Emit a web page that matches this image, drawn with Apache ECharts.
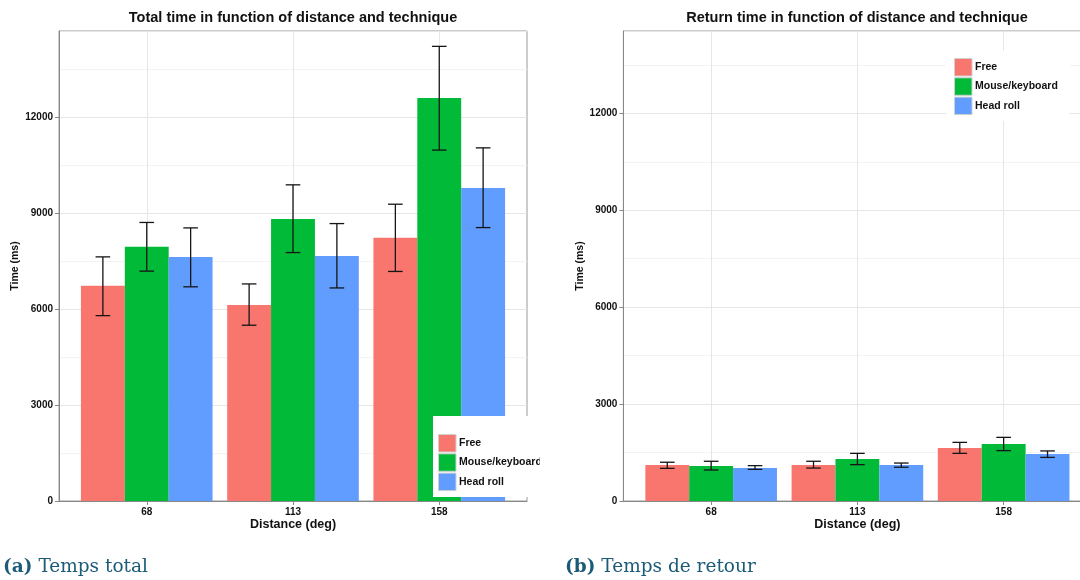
<!DOCTYPE html>
<html>
<head>
<meta charset="utf-8">
<script src="https://cdn.jsdelivr.net/npm/echarts@6/dist/echarts.min.js"></script>
<style>
  html, body { margin: 0; padding: 0; background: #fff; }
  #chartA { position: absolute; left: 0; top: 0; width: 540px; height: 580px; }
  #chartB { position: absolute; left: 540px; top: 0; width: 540px; height: 580px; }
  .cap { position: absolute; top: 557px; font-family: 'DejaVu Serif', serif; font-size: 18.5px;
         line-height: 1; color: #1b5b78; white-space: nowrap; z-index: 5; }
</style>
</head>
<body>
<div id="chartA"></div>
<div id="chartB"></div>
<div class="cap" style="left:3px;"><b>(a)</b> Temps total</div>
<div class="cap" style="left:565px;"><b>(b)</b> Temps de retour</div>
<script>
// ---- data ----
const categories = ['68', '113', '158'];
const techniques = ['Free', 'Mouse/keyboard', 'Head roll'];
const yTicks = [0, 3000, 6000, 9000, 12000];

// Total time (ms): means and error-bar bounds per technique, per distance
const totalFree      = [6720, 6125, 8220];
const totalFreeLow   = [5790, 5490, 7170];
const totalFreeHigh  = [7625, 6780, 9270];
const totalMouse     = [7940, 8810, 12590];
const totalMouseLow  = [7180, 7760, 10960];
const totalMouseHigh = [8700, 9875, 14200];
const totalHead      = [7625, 7655, 9780];
const totalHeadLow   = [6690, 6655, 8540];
const totalHeadHigh  = [8530, 8665, 11030];

// Return time (ms)
const returnFree      = [1115, 1115, 1640];
const returnFreeLow   = [1010, 1020, 1475];
const returnFreeHigh  = [1200, 1230, 1815];
const returnMouse     = [1085, 1300, 1765];
const returnMouseLow  = [960, 1125, 1560];
const returnMouseHigh = [1230, 1475, 1970];
const returnHead      = [1020, 1115, 1455];
const returnHeadLow   = [980, 1045, 1350];
const returnHeadHigh  = [1095, 1175, 1550];

// ---- styling ----
const PALETTE = ['#F8766D', '#00BA38', '#619CFF'];
const FONT = "'Liberation Sans', Arial, sans-serif";
const INK = '#111111';

function buildSeries(means, lows, highs) {
  return techniques.map((name, k) => ({
    type: 'custom',
    name: name,
    itemStyle: { color: PALETTE[k] },
    encode: { x: 0, y: [1, 2, 3] },
    data: categories.map((c, i) => [i + 1, means[k][i], lows[k][i], highs[k][i]]),
    renderItem: function (params, api) {
      const x = api.value(0) + (k - 1) * 0.3;
      const base = api.coord([x - 0.15, 0]);
      const top = api.coord([x + 0.15, api.value(1)]);
      const lo = api.coord([x, api.value(2)]);
      const hi = api.coord([x, api.value(3)]);
      const capL = api.coord([x - 0.05, 0])[0];
      const capR = api.coord([x + 0.05, 0])[0];
      const stroke = { stroke: '#151515', lineWidth: 1.3 };
      return {
        type: 'group',
        children: [
          { type: 'rect', shape: { x: base[0], y: top[1], width: top[0] - base[0], height: base[1] - top[1] },
            style: { fill: api.visual('color') } },
          { type: 'line', shape: { x1: lo[0], y1: lo[1], x2: hi[0], y2: hi[1] }, style: stroke },
          { type: 'line', shape: { x1: capL, y1: lo[1], x2: capR, y2: lo[1] }, style: stroke },
          { type: 'line', shape: { x1: capL, y1: hi[1], x2: capR, y2: hi[1] }, style: stroke }
        ]
      };
    }
  }));
}

function buildOption(cfg) {
  return {
    animation: false,
    textStyle: { fontFamily: FONT },
    graphic: [{
      type: 'text', x: cfg.titleX, y: 18,
      style: { text: cfg.title, font: 'bold 14.5px ' + FONT, fill: INK, textAlign: 'center', textVerticalAlign: 'middle' }
    }],
    legend: {
      orient: 'vertical',
      left: cfg.legendLeft, top: cfg.legendTop,
      padding: cfg.legendPadding,
      backgroundColor: '#ffffff',
      itemWidth: 17.5, itemHeight: 17.5, itemGap: 0.8,
      icon: 'rect',
      itemStyle: { borderColor: '#d0d0d0', borderWidth: 1 },
      textStyle: { fontFamily: FONT, fontWeight: 'bold', fontSize: 10.5, color: INK, padding: [0, 0, 0, -2] },
      data: techniques
    },
    grid: {
      left: cfg.gridLeft, top: 31, width: 468, height: 470,
      outerBoundsMode: 'none', containLabel: false,
      show: true, borderColor: '#999999', borderWidth: 1, backgroundColor: 'transparent'
    },
    xAxis: {
      type: 'value', min: 0.4, max: 3.6,
      name: 'Distance (deg)', nameLocation: 'middle', nameGap: 17, nameMoveOverlap: false,
      nameTextStyle: { fontFamily: FONT, fontWeight: 'bold', fontSize: 12.5, color: INK },
      axisLine: { show: true, lineStyle: { color: '#888888' } },
      axisTick: { show: true, length: 4, customValues: [1, 2, 3], lineStyle: { color: '#888888' } },
      axisLabel: { customValues: [1, 2, 3], margin: 6, fontFamily: FONT, fontWeight: 'bold', fontSize: 10, color: INK,
                   formatter: v => categories[Math.round(v) - 1] },
      splitLine: { show: true, lineStyle: { color: '#e6e6e6', width: 1 } }
    },
    yAxis: [{
      type: 'value', min: 0, max: cfg.yMax,
      name: 'Time (ms)', nameLocation: 'middle', nameGap: 38, nameMoveOverlap: false,
      nameTextStyle: { fontFamily: FONT, fontWeight: 'bold', fontSize: 10.5, color: INK },
      axisLine: { show: true, lineStyle: { color: '#888888' } },
      axisTick: { show: true, length: 4, customValues: yTicks, lineStyle: { color: '#888888' } },
      axisLabel: { customValues: yTicks, margin: 6, fontFamily: FONT, fontWeight: 'bold', fontSize: 10, color: INK,
                   formatter: v => String(v) },
      splitLine: { show: false }
    }, {
      type: 'value', min: 0, max: cfg.yMax, interval: 1500,
      position: 'left',
      axisLine: { show: false }, axisTick: { show: false }, axisLabel: { show: false },
      splitLine: { show: true, lineStyle: { color: ['#e6e6e6', '#f3f3f3'], width: 1 } }
    }],
    series: buildSeries(cfg.means, cfg.lows, cfg.highs)
  };
}

const chartA = echarts.init(document.getElementById('chartA'), null, { renderer: 'canvas' });
chartA.setOption(buildOption({
  title: 'Total time in function of distance and technique',
  titleX: 293,
  gridLeft: 59,
  yMax: 14680,
  legendLeft: 433, legendTop: 416, legendPadding: [18, 12, 6, 5],
  means: [totalFree, totalMouse, totalHead],
  lows: [totalFreeLow, totalMouseLow, totalHeadLow],
  highs: [totalFreeHigh, totalMouseHigh, totalHeadHigh]
}));

const chartB = echarts.init(document.getElementById('chartB'), null, { renderer: 'canvas' });
chartB.setOption(buildOption({
  title: 'Return time in function of distance and technique',
  titleX: 317,
  gridLeft: 83.4,
  yMax: 14550,
  legendLeft: 406, legendTop: 51, legendPadding: [7, 12, 6, 8],
  means: [returnFree, returnMouse, returnHead],
  lows: [returnFreeLow, returnMouseLow, returnHeadLow],
  highs: [returnFreeHigh, returnMouseHigh, returnHeadHigh]
}));
</script>
</body>
</html>
